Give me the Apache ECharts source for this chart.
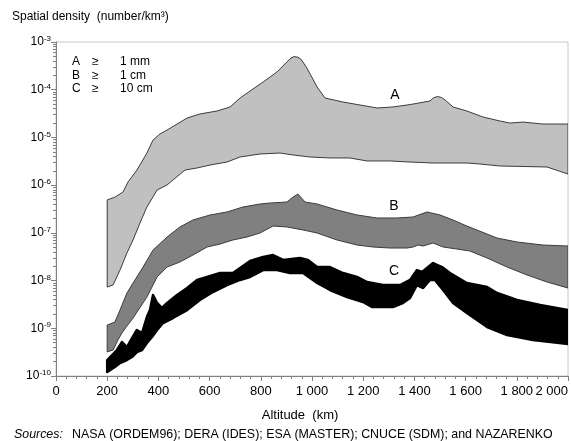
<!DOCTYPE html>
<html>
<head>
<meta charset="utf-8">
<script src="https://cdn.jsdelivr.net/npm/echarts@6/dist/echarts.min.js"></script>
<style>
  html, body { margin: 0; padding: 0; background: #fff; }
  #chart { width: 571px; height: 441px; }
</style>
</head>
<body>
<div id="chart"></div>
<script>
// Spatial density envelopes [altitude km, number/km^3]
const bandAUpper = [[200,4.9e-7],[230,5.6e-7],[262,7.2e-7],[281,1.16e-6],[316,2.07e-6],[355,4.7e-6],[379,8.8e-6],[406,1.18e-5],[434,1.43e-5],[473,1.91e-5],[512,2.55e-5],[562,3.1e-5],[629,3.58e-5],[680,4.35e-5],[719,6.7e-5],[758,9.4e-5],[809,1.45e-4],[863,2.35e-4],[902,3.81e-4],[918,4.6e-4],[930,4.95e-4],[945,4.8e-4],[958,4.3e-4],[980,2.85e-4],[1020,1.14e-4],[1051,6.7e-5],[1121,5.52e-5],[1188,4.78e-5],[1254,4.14e-5],[1316,4.35e-5],[1371,4.78e-5],[1395,5.01e-5],[1461,5.8e-5],[1475,6.8e-5],[1490,7.2e-5],[1505,6.9e-5],[1520,6.08e-5],[1551,4.35e-5],[1605,3.58e-5],[1668,2.68e-5],[1734,2.21e-5],[1773,2.0e-5],[1824,2.1e-5],[1902,1.91e-5],[2000,1.91e-5]];
const bandALower = [[200,7.3e-9],[223,8.1e-9],[250,1.66e-8],[277,3.78e-8],[301,7.1e-8],[328,1.61e-7],[355,3.48e-7],[395,7.9e-7],[434,1.01e-6],[457,1.28e-6],[504,2.07e-6],[551,2.29e-6],[602,2.64e-6],[668,3.05e-6],[719,3.89e-6],[797,4.5e-6],[875,4.71e-6],[926,4.29e-6],[992,3.89e-6],[1070,3.71e-6],[1148,3.71e-6],[1215,3.21e-6],[1305,3.21e-6],[1383,3.05e-6],[1473,2.91e-6],[1605,2.91e-6],[1656,2.77e-6],[1734,2.52e-6],[1918,2.4e-6],[2000,1.71e-6]];

const bandBUpper = [[200,1.17e-9],[230,1.35e-9],[250,2.41e-9],[277,5.48e-9],[301,8.9e-9],[340,1.92e-8],[379,4.36e-8],[434,8.18e-8],[484,1.33e-7],[535,1.86e-7],[602,2.37e-7],[668,2.74e-7],[730,3.48e-7],[797,4.03e-7],[836,4.22e-7],[902,4.43e-7],[926,5.64e-7],[945,6.52e-7],[973,4.43e-7],[1020,4.03e-7],[1098,3.01e-7],[1176,2.37e-7],[1254,2.05e-7],[1332,2.05e-7],[1395,2.15e-7],[1449,2.74e-7],[1500,2.37e-7],[1551,1.86e-7],[1605,1.39e-7],[1723,7.8e-8],[1801,6.43e-8],[1902,5.56e-8],[2000,5.3e-8]];
const bandBLower = [[200,3.2e-10],[223,3.5e-10],[242,5.7e-10],[258,8.0e-10],[277,1.11e-9],[301,1.64e-9],[355,4.5e-9],[395,1.19e-8],[434,1.92e-8],[484,2.45e-8],[535,3.43e-8],[590,5.05e-8],[641,5.83e-8],[691,7.08e-8],[746,8.18e-8],[797,9.93e-8],[848,1.39e-7],[902,1.33e-7],[965,1.15e-7],[1020,9.93e-8],[1098,7.08e-8],[1176,5.56e-8],[1238,5.05e-8],[1305,4.81e-8],[1371,4.81e-8],[1395,5.05e-8],[1414,5.56e-8],[1434,5.3e-8],[1473,6.12e-8],[1512,5.05e-8],[1566,4.58e-8],[1617,4.16e-8],[1684,2.97e-8],[1762,1.92e-8],[1840,1.31e-8],[1918,9.33e-9],[2000,6.98e-9]];

const bandCUpper = [[200,2.16e-10],[238,3.5e-10],[258,5.15e-10],[277,4.05e-10],[297,6.25e-10],[316,9.2e-10],[336,7.96e-10],[355,1.72e-9],[367,2.41e-9],[379,4.98e-9],[395,3.39e-9],[414,2.66e-9],[434,3.39e-9],[473,4.98e-9],[512,6.98e-9],[551,1.03e-8],[590,1.19e-8],[641,1.44e-8],[691,1.44e-8],[719,1.83e-8],[758,2.57e-8],[809,3.12e-8],[848,3.43e-8],[887,2.7e-8],[953,2.97e-8],[984,2.7e-8],[1020,1.92e-8],[1070,1.92e-8],[1121,1.44e-8],[1176,1.19e-8],[1215,9.33e-9],[1277,8.07e-9],[1344,8.07e-9],[1383,1.03e-8],[1410,1.66e-8],[1430,1.51e-8],[1449,1.83e-8],[1473,2.33e-8],[1508,1.92e-8],[1539,1.44e-8],[1605,8.89e-9],[1684,7.33e-9],[1723,5.48e-9],[1801,3.91e-9],[1891,3.08e-9],[2000,2.41e-9]];
const bandCLower = [[200,1.21e-10],[230,1.54e-10],[250,1.87e-10],[277,2.16e-10],[297,2.5e-10],[316,3.18e-10],[336,3.5e-10],[355,4.91e-10],[375,6.56e-10],[395,9.21e-10],[418,1.29e-9],[457,1.64e-9],[512,2.41e-9],[562,3.91e-9],[613,5.75e-9],[668,8.07e-9],[719,1.03e-8],[758,1.19e-8],[809,1.66e-8],[863,1.66e-8],[914,1.44e-8],[965,1.44e-8],[1020,8.89e-9],[1070,6.34e-9],[1137,4.52e-9],[1199,3.56e-9],[1234,2.79e-9],[1316,2.79e-9],[1355,3.39e-9],[1383,4.31e-9],[1410,8.07e-9],[1434,6.98e-9],[1461,1.03e-8],[1480,1.03e-8],[1512,6.34e-9],[1551,3.39e-9],[1605,2.09e-9],[1684,1.06e-9],[1762,7.23e-10],[1863,5.68e-10],[2000,4.68e-10]];

// Size classes
const classLetters = ['A', 'B', 'C'];
const classSizes = ['1 mm', '1 cm', '10 cm'];

// Axis ranges
const altMin = 0, altMax = 2000, altStep = 200;
const densMin = 1e-10, densMax = 1e-3;
const expMin = -10, expMax = -3;

// Logarithmic minor tick positions (2..9 of each decade), in exponent units
const minorExps = [];
for (let e = expMin; e < expMax; e++) {
  for (let k = 2; k <= 9; k++) minorExps.push(e + Math.log10(k));
}

const FONT = 'Arial, "Liberation Sans", Helvetica, sans-serif';

function bandSeries(name, upper, lower, fill, stroke, lineWidth) {
  return {
    type: 'custom',
    name: name,
    coordinateSystem: 'cartesian2d',
    xAxisIndex: 0,
    yAxisIndex: 0,
    data: [[1000, 1e-6]],
    clip: true,
    silent: true,
    renderItem: function (params, api) {
      const pts = upper.map(p => api.coord(p))
        .concat(lower.slice().reverse().map(p => api.coord(p)));
      return {
        type: 'polygon',
        shape: { points: pts, smooth: 0 },
        style: { fill: fill, stroke: stroke, lineWidth: lineWidth, lineJoin: 'round' }
      };
    }
  };
}

function fmtAlt(v) {
  if (v >= 1000) return Math.floor(v / 1000) + ' ' + String(v % 1000).padStart(3, '0');
  return String(v);
}

const chart = echarts.init(document.getElementById('chart'), null, { renderer: 'canvas' });

const option = {
  animation: false,
  backgroundColor: '#fff',
  textStyle: { fontFamily: FONT },
  grid: {
    left: 56, right: 3, top: 42, bottom: 65,
    containLabel: false,
    outerBoundsMode: 'none',
    show: true, borderColor: '#c8c8c8', borderWidth: 1, backgroundColor: 'transparent'
  },
  xAxis: [{
    type: 'value',
    min: altMin, max: altMax, interval: altStep,
    axisLine: { show: true, lineStyle: { color: '#808080', width: 1 } },
    axisTick: { show: true, length: 5, lineStyle: { color: '#808080' } },
    minorTick: { show: true, splitNumber: 5, length: 3, lineStyle: { color: '#808080' } },
    splitLine: { show: false },
    axisLabel: {
      fontSize: 13, color: '#000', margin: 9, formatter: fmtAlt, fontFamily: FONT,
      hideOverlap: false, alignMaxLabel: 'right'
    }
  }],
  yAxis: [{
    type: 'log',
    logBase: 10,
    min: densMin, max: densMax,
    splitNumber: 7,
    axisLine: { show: true, lineStyle: { color: '#808080', width: 1 } },
    axisTick: { show: true, length: 5, lineStyle: { color: '#808080' } },
    splitLine: { show: false },
    axisLabel: {
      color: '#000', fontSize: 12, margin: 5, fontFamily: FONT,
      formatter: function (v) {
        const e = Math.round(Math.log10(v));
        return '10{sup|' + e + '}';
      },
      rich: {
        sup: { fontSize: 8, verticalAlign: 'top', padding: [0, 0, 6, 0], color: '#000', fontFamily: FONT }
      }
    }
  }, {
    // minor ticks on a log scale, placed in exponent space
    type: 'value',
    min: expMin, max: expMax,
    position: 'left',
    axisLine: { show: false },
    axisLabel: { show: false },
    splitLine: { show: false },
    axisTick: { show: true, length: 3, customValues: minorExps, lineStyle: { color: '#808080' } }
  }],
  series: [
    bandSeries('A', bandAUpper, bandALower, '#c0c0c0', '#3c3c3c', 1),
    bandSeries('B', bandBUpper, bandBLower, '#808080', '#3c3c3c', 1),
    bandSeries('C', bandCUpper, bandCLower, '#000000', '#000000', 2.5)
  ],
  graphic: [
    { type: 'text', left: 12, top: 11, style: { text: 'Spatial density  (number/km³)', font: '12px ' + FONT, fill: '#000' } },
    { type: 'text', x: 72, y: 56, style: { text: classLetters[0], font: '12px ' + FONT, fill: '#000' } },
    { type: 'text', x: 72, y: 69.5, style: { text: classLetters[1], font: '12px ' + FONT, fill: '#000' } },
    { type: 'text', x: 72, y: 83, style: { text: classLetters[2], font: '12px ' + FONT, fill: '#000' } },
    { type: 'text', x: 92, y: 56, style: { text: '≥', font: '12px ' + FONT, fill: '#000' } },
    { type: 'text', x: 92, y: 69.5, style: { text: '≥', font: '12px ' + FONT, fill: '#000' } },
    { type: 'text', x: 92, y: 83, style: { text: '≥', font: '12px ' + FONT, fill: '#000' } },
    { type: 'text', x: 120, y: 56, style: { text: classSizes[0], font: '12px ' + FONT, fill: '#000' } },
    { type: 'text', x: 120, y: 69.5, style: { text: classSizes[1], font: '12px ' + FONT, fill: '#000' } },
    { type: 'text', x: 120, y: 83, style: { text: classSizes[2], font: '12px ' + FONT, fill: '#000' } },
    { type: 'text', x: 395, y: 95, style: { text: classLetters[0], font: '14px ' + FONT, fill: '#000', align: 'center', verticalAlign: 'middle' } },
    { type: 'text', x: 394, y: 206, style: { text: classLetters[1], font: '14px ' + FONT, fill: '#000', align: 'center', verticalAlign: 'middle' } },
    { type: 'text', x: 394, y: 271, style: { text: classLetters[2], font: '14px ' + FONT, fill: '#000', align: 'center', verticalAlign: 'middle' } },
    { type: 'text', x: 300, y: 415, style: { text: 'Altitude  (km)', font: '13px ' + FONT, fill: '#000', align: 'center', verticalAlign: 'middle' } },
    { type: 'text', x: 14, y: 435, style: { text: 'Sources:', font: 'italic 12.4px ' + FONT, fill: '#000', verticalAlign: 'middle' } },
    { type: 'text', x: 72, y: 435, style: { text: 'NASA (ORDEM96); DERA (IDES); ESA (MASTER); CNUCE (SDM); and NAZARENKO', font: '12.4px ' + FONT, fill: '#000', verticalAlign: 'middle' } }
  ]
};

chart.setOption(option);
</script>
</body>
</html>
